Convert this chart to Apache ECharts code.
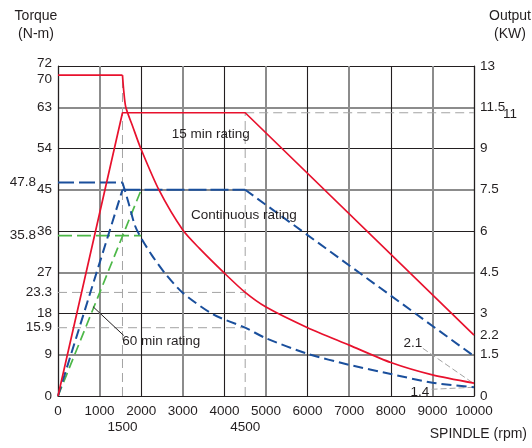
<!DOCTYPE html>
<html><head><meta charset="utf-8">
<script src="https://cdn.jsdelivr.net/npm/echarts@6/dist/echarts.min.js"></script>
<style>html,body{margin:0;padding:0;background:#fff}#c{width:532px;height:448px}</style>
</head><body><div id="c"></div>
<script>
const FONT = "'Liberation Sans Narrow','Arial Narrow','Liberation Sans',Arial,sans-serif";
const TXT = '#231f20';
const RED = '#e8112d', BLUE = '#1a4f9c', GREEN = '#4db848', GUIDE = '#a3a3a3';

// axis tick texts
const rightAxisText = ['0','1.5','3','4.5','6','7.5','9','11.5','13'];
const leftExtraVals = [70, 46.6, 35, 22.6, 14.9];
const leftExtraText = ['70','47.8','35.8','23.3','15.9'];
const rightExtraVals = [61.8, 13.3];
const rightExtraText = ['11','2.2'];
const bottomExtraVals = [1550, 4500];
const bottomExtraText = ['1500','4500'];

// 15 min rating (red)
const torque15Flat = [[0,70],[1550,70]];
const torque15Curve = [[1550,70],[1580,66.6],[1630,63],[1800,58.7],[1990,54],[2430,44.9],[3000,36.2],[3400,32.2],[4000,26.8],[4500,22.6],[5000,19.4],[6000,14.9],[7000,11.1],[8000,7.3],[9000,4.6],[10000,2.8]];
const power15 = [[0,0],[1550,61.8],[4500,61.8],[10000,13.3]];

// continuous rating (blue)
const torqueContFlat = [[0,46.6],[1550,46.6]];
const torqueContCurve = [[1550,46.6],[1700,42],[1845,37.3],[1965,35],[2250,30.8],[2570,26.8],[3000,22.5],[3730,17.8],[4500,14.9],[5000,12.6],[6000,9.2],[7000,6.8],[8000,4.8],[9000,2.9],[10000,1.9]];
const powerContRise = [[0,0],[1550,45]];
const powerContFlat = [[1550,45],[4500,45]];
const powerContFall = [[4500,45],[10000,8.7]];

// 60 min rating (green)
const torque60 = [[0,35],[2000,35]];
const power60 = [[0,0],[2000,45]];

// guide lines
const guideV1500 = [[1550,0],[1550,70]];
const guideV4500 = [[4500,0],[4500,61.8]];
const guideH11 = [[4500,61.8],[10000,61.8]];
const guideH233 = [[0,22.6],[4500,22.6]];
const guideH159 = [[0,14.9],[4500,14.9]];
const leader21 = [[8770,10.4],[9980,2.8]];
const leader14 = [[8980,1.46],[9980,1.9]];
const arrow60 = [[1580,13.2],[840,19.5]];

// annotations
const noteX = [3670, 4470, 2480, 8530, 8700];
const noteY = [57.2, 39.5, 12.0, 11.6, 0.9];
const noteText = ['15 min rating','Continuous rating','60 min rating','2.1','1.4'];

function ln(data, color, width, dash, smooth, z) {
  return {type:'line', data, symbol:'none', smooth: smooth || false, silent:true, animation:false, clip:false,
    lineStyle:{color, width, type: dash || 'solid'}, z: z || 3};
}
const txt = (size) => ({color:TXT, fontSize:size, fontFamily:FONT, opacity:1});
function textSeries(data, label) {
  return {type:'scatter', silent:true, animation:false, symbolSize:0, z:10,
    itemStyle:{color:TXT, opacity:1}, data,
    label:Object.assign({show:true, formatter:'{b}'}, label)};
}

const chart = echarts.init(document.getElementById('c'));
const series = [
  ln(guideV1500, GUIDE, 1, [9,5], false, 2),
  ln(guideV4500, GUIDE, 1, [9,5], false, 2),
  ln(guideH11, GUIDE, 1, [9,5], false, 2),
  ln(guideH233, GUIDE, 1, [9,5], false, 2),
  ln(guideH159, GUIDE, 1, [9,5], false, 2),
  ln(leader21, GUIDE, 1, [6,3], false, 2),
  ln(leader14, GUIDE, 1, [6,3], false, 2),
  ln(torque60, GREEN, 1.7, [14,5]),
  Object.assign(ln(power60, GREEN, 1.7, [10,5]), {
    markLine:{silent:true, animation:false, symbol:['none','arrow'], symbolSize:[0,9],
      label:{show:false}, lineStyle:{color:TXT, width:1, type:'solid'},
      data:[[{coord:arrow60[0]},{coord:arrow60[1]}]]}
  }),
  ln(torqueContFlat, BLUE, 2, [16,5]),
  ln(torqueContCurve, BLUE, 2, [10,5], 0.25),
  ln(powerContRise, BLUE, 2, [10,5]),
  ln(powerContFlat, BLUE, 2.2, [18,4]),
  ln(powerContFall, BLUE, 2, [10,5]),
  ln(torque15Flat, RED, 1.7),
  ln(torque15Curve, RED, 1.7, 'solid', 0.25),
  ln(power15, RED, 1.7),
  textSeries(noteX.map((x,i)=>({value:[x,noteY[i]], name:noteText[i]})),
    Object.assign({position:'inside'}, txt(13.5))),
  textSeries(leftExtraVals.map((v,i)=>({value:[0,v], name:leftExtraText[i],
      label:{distance: (i===1||i===2) ? 22 : 6, offset: i===0 ? [0,4] : [0,0]}})),
    Object.assign({position:'left'}, txt(13.5))),
  textSeries(rightExtraVals.map((v,i)=>({value:[10000,v], name:rightExtraText[i],
      label:{distance: i===0 ? 29 : 6, offset: i===0 ? [0,2] : [0,0]}})),
    Object.assign({position:'right'}, txt(13.5))),
  textSeries(bottomExtraVals.map((v,i)=>({value:[v,0], name:bottomExtraText[i]})),
    Object.assign({position:'bottom', distance:24}, txt(13.5)))
];

chart.setOption({
  animation:false,
  backgroundColor:'#fff',
  title:[
    {text:'Torque\n(N-m)', left:31, top:2, textAlign:'center', textStyle:Object.assign({fontWeight:'normal', lineHeight:18}, txt(14))},
    {text:'Output\n(KW)', left:505, top:2, textAlign:'center', textStyle:Object.assign({fontWeight:'normal', lineHeight:18}, txt(14))},
    {text:'SPINDLE (rpm)', right:0, top:420, textStyle:Object.assign({fontWeight:'normal', lineHeight:18}, txt(14))}
  ],
  grid:{left:58, right:58, top:66, bottom:52, containLabel:false, outerBoundsMode:'none'},
  xAxis:[
    {type:'value', min:0, max:10000, interval:1000, position:'bottom',
      axisLine:{show:true, onZero:false, lineStyle:{color:TXT, width:1.2}}, axisTick:{show:false},
      axisLabel:Object.assign({margin:8, formatter:(v)=>String(v)}, txt(13.5)),
      splitLine:{show:true, lineStyle:{color:[TXT,'rgba(0,0,0,0)'], width:1.1}}},
    {type:'value', min:0, max:10000, interval:1000, position:'top',
      axisLine:{show:false}, axisTick:{show:false}, axisLabel:{show:false},
      splitLine:{show:true, lineStyle:{color:['rgba(0,0,0,0)','#8c8c8c'], width:2}}}
  ],
  yAxis:[
    {type:'value', min:0, max:72, interval:9, position:'left',
      axisLine:{show:true, onZero:false, lineStyle:{color:TXT, width:1.2}}, axisTick:{show:false},
      axisLabel:Object.assign({margin:6, formatter:(v)=> v===72 ? '{up|72}' : String(v),
        rich:{up:Object.assign({padding:[0,0,6,0]}, txt(13.5))}}, txt(13.5)),
      splitLine:{show:true, lineStyle:{color:[TXT,'rgba(0,0,0,0)'], width:1.1}}},
    {type:'value', min:0, max:72, interval:9, position:'right',
      axisLine:{show:true, onZero:false, lineStyle:{color:TXT, width:1.2}}, axisTick:{show:false},
      axisLabel:Object.assign({margin:6, formatter:(v)=>rightAxisText[Math.round(v/9)]}, txt(13.5)),
      splitLine:{show:true, lineStyle:{color:['rgba(0,0,0,0)','#8c8c8c'], width:2}}}
  ],
  series
});
</script></body></html>
